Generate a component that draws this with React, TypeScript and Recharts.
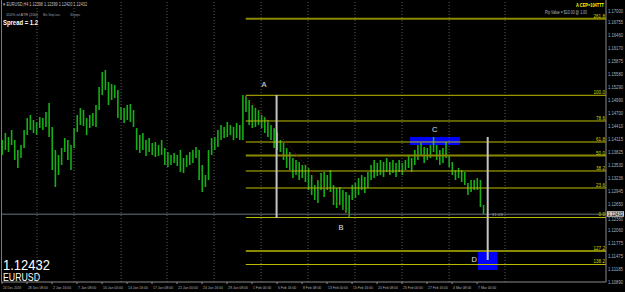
import React from 'react';
import {
  ComposedChart,
  Bar,
  XAxis,
  YAxis,
  ReferenceLine,
  ReferenceArea,
  ReferenceDot,
} from 'recharts';

// H4 bars (every other bar), prices
const highs = [
  1.14100, 1.14257, 1.14167, 1.14325, 1.14100, 1.13875, 1.13987, 1.14325, 1.14594, 1.14662,
  1.14549, 1.14504, 1.14617, 1.14594, 1.14729, 1.14932, 1.14392, 1.13875, 1.13763, 1.13920,
  1.14145, 1.14100, 1.13987, 1.14370, 1.14662, 1.14819, 1.14774, 1.14594, 1.14662, 1.14707,
  1.14887, 1.15291, 1.15628, 1.15673, 1.15404, 1.15359, 1.15336, 1.15224, 1.14842, 1.14819,
  1.14887, 1.14909, 1.14774, 1.14370, 1.14212, 1.14257, 1.14100, 1.14145, 1.14032, 1.14055,
  1.13987, 1.14100, 1.13920, 1.13830, 1.13763, 1.13808, 1.13763, 1.13875, 1.13695, 1.13763,
  1.13830, 1.13875, 1.13942, 1.13875, 1.13538, 1.13313, 1.13875, 1.14145, 1.14167, 1.14325,
  1.14437, 1.14392, 1.14504, 1.14437, 1.14392, 1.14482, 1.14437, 1.15111, 1.15089, 1.14999,
  1.14887, 1.14819, 1.14774, 1.14662, 1.14617, 1.14549, 1.14437, 1.14370, 1.14280, 1.14100,
  1.14032, 1.13920, 1.13830, 1.13695, 1.13650, 1.13605, 1.13538, 1.13538, 1.13470, 1.13313,
  1.13088, 1.13201, 1.13358, 1.13380, 1.13313, 1.13425, 1.13088, 1.13021, 1.13043, 1.12976,
  1.12931, 1.12863, 1.13088, 1.13133, 1.13246, 1.13313, 1.13268, 1.13380, 1.13538, 1.13650,
  1.13583, 1.13650, 1.13605, 1.13695, 1.13605, 1.13650, 1.13583, 1.13650, 1.13583, 1.13650,
  1.13763, 1.13695, 1.13875, 1.13987, 1.14032, 1.13942, 1.13920, 1.13987, 1.14167, 1.13987,
  1.13875, 1.13920, 1.14055, 1.13763, 1.13605, 1.13425, 1.13470, 1.13425, 1.13380, 1.13133,
  1.13201, 1.13201, 1.13246, 1.13201, 1.12639,
];

const lows = [
  1.13763, 1.13875, 1.13830, 1.13987, 1.13650, 1.13470, 1.13695, 1.13920, 1.14212, 1.14325,
  1.14257, 1.14212, 1.14370, 1.14325, 1.14392, 1.14167, 1.13425, 1.13043, 1.13313, 1.13538,
  1.13830, 1.13650, 1.13425, 1.13920, 1.14280, 1.14437, 1.14415, 1.14212, 1.14370, 1.14415,
  1.14392, 1.14774, 1.15111, 1.15224, 1.14887, 1.14999, 1.15044, 1.14594, 1.14549, 1.14482,
  1.14549, 1.14504, 1.14392, 1.13875, 1.13808, 1.13875, 1.13740, 1.13830, 1.13763, 1.13718,
  1.13740, 1.13763, 1.13538, 1.13493, 1.13538, 1.13583, 1.13515, 1.13380, 1.13358, 1.13493,
  1.13538, 1.13583, 1.13695, 1.13201, 1.12931, 1.13043, 1.13201, 1.13763, 1.13875, 1.13942,
  1.14100, 1.14145, 1.14167, 1.14212, 1.14100, 1.14145, 1.14100, 1.14100, 1.14729, 1.14437,
  1.14370, 1.14392, 1.14437, 1.14370, 1.14257, 1.14167, 1.14100, 1.13920, 1.13875, 1.13830,
  1.13650, 1.13470, 1.13425, 1.13246, 1.13313, 1.13201, 1.13246, 1.13156, 1.12976, 1.12863,
  1.12751, 1.12684, 1.12976, 1.12818, 1.12976, 1.12931, 1.12639, 1.12571, 1.12639, 1.12526,
  1.12459, 1.12358, 1.12751, 1.12796, 1.12863, 1.12976, 1.12908, 1.13021, 1.13201, 1.13246,
  1.13291, 1.13313, 1.13268, 1.13380, 1.13313, 1.13358, 1.13268, 1.13380, 1.13313, 1.13425,
  1.13470, 1.13380, 1.13538, 1.13650, 1.13763, 1.13583, 1.13650, 1.13695, 1.13830, 1.13650,
  1.13538, 1.13583, 1.13695, 1.13493, 1.13313, 1.13201, 1.13246, 1.13156, 1.13088, 1.12863,
  1.12931, 1.12976, 1.12976, 1.12594, 1.12436,
];

const dateTicks = [0, 16, 32, 48, 64, 80, 96, 112, 128, 144, 160, 176, 192, 208, 224, 240, 256, 272, 288, 304];
const dateLabels = [
  '24 Dec 2018', '28 Dec 08:00', '2 Jan 16:00', '7 Jan 08:00', '10 Jan 00:00',
  '14 Jan 16:00', '17 Jan 08:00', '22 Jan 00:00', '24 Jan 16:00', '29 Jan 08:00',
  '1 Feb 00:00', '5 Feb 16:00', '8 Feb 08:00', '13 Feb 00:00', '15 Feb 16:00',
  '20 Feb 08:00', '25 Feb 00:00', '27 Feb 16:00', '4 Mar 08:00', '7 Mar 00:00',
];
const priceTicks = [
  1.17000, 1.16755, 1.16460, 1.16170, 1.15875, 1.15580, 1.15290, 1.14990, 1.14700, 1.14410,
  1.14115, 1.13825, 1.13530, 1.13236, 1.12945, 1.12650, 1.12360, 1.12060, 1.11775, 1.11475,
  1.11185, 1.10890,
];
const gridBars = [22.4, 46.1, 76.2, 105.6, 135.7, 165.8, 195.8, 225.9, 256, 286.1, 321.9];

const fibLabels = ['261.8', '100.0', '78.6', '61.8', '50.0', '38.2', '23.6', '0.0', '127.2', '138.2'];
const fibPrices = [1.16827, 1.15105, 1.14527, 1.14055, 1.13751, 1.13403, 1.13021, 1.12358, 1.11604, 1.11301];
const fibDark = ['261.8', '50.0', '127.2'];

const pointNames = ['A', 'B', 'C', 'D'];
const pointBars = [167.7, 217, 276.9, 302.1];
const pointPrices = [1.15359, 1.12144, 1.14347, 1.11418];

const lastPrice = 1.12432;
const X_MAX = 386.5;
const Y_MIN = 1.109074;
const Y_MAX = 1.172473;

const data = highs.map((h, i) => ({ bar: i * 2, range: [lows[i], h] }));

const FONT = '"Liberation Sans", Arial, sans-serif';

const PriceTick = (props: any) => {
  const { x, y, payload } = props;
  // the 1.12360 label sits mostly behind the current-price box; nudge it just below
  const dy = Math.abs(payload.value - 1.1236) < 1e-6 ? 2.2 : 0;
  return (
    <text x={x + 2} y={y + 1.7 + dy} fontSize={4.6} fill="#b0b0b0" fontFamily={FONT}
      textLength={15} lengthAdjust="spacingAndGlyphs">
      {payload.value.toFixed(5)}
    </text>
  );
};

const DateTick = (props: any) => {
  const { x, y, payload } = props;
  const label = dateLabels[dateTicks.indexOf(payload.value)] || '';
  return (
    <g>
      <line x1={x} x2={x} y1={y} y2={y + 2} stroke="#909090" strokeWidth={1} />
      <text x={x + 1} y={y + 6.5} fontSize={4.4} fill="#b0b0b0" fontFamily={FONT}
        textLength={label.length * 1.65} lengthAdjust="spacingAndGlyphs">
        {label}
      </text>
    </g>
  );
};

export default function App() {
  return (
    <div style={{ position: 'fixed', left: 0, top: 0, width: 625, height: 292, background: '#000' }}>
      <ComposedChart width={625} height={292} data={data}
        margin={{ top: 0, right: 0, bottom: 0, left: 2 }}>
        <XAxis dataKey="bar" type="number" domain={[0, X_MAX]} allowDataOverflow
          ticks={dateTicks} interval={0} height={10} tickSize={0} tickMargin={0}
          axisLine={{ stroke: '#8a8a8a' }} tickLine={false} tick={<DateTick />} />
        <YAxis orientation="right" type="number" domain={[Y_MIN, Y_MAX]} allowDataOverflow
          ticks={priceTicks} interval={0} width={19} tickSize={0} tickMargin={0}
          axisLine={{ stroke: '#8a8a8a' }} tickLine={false} tick={<PriceTick />} />

        {gridBars.map((b) => (
          <ReferenceLine key={'g' + b} x={b} stroke="#5c5c5c" strokeDasharray="1 2" />
        ))}

        <ReferenceLine y={lastPrice} stroke="#6a7282" strokeWidth={1} />

        {fibPrices.map((p, i) => (
          <ReferenceLine key={'f' + i}
            segment={[{ x: 156, y: p }, { x: X_MAX, y: p }]}
            stroke={fibDark.includes(fibLabels[i]) ? '#8a8a00' : '#bdbd00'}
            strokeWidth={fibDark.includes(fibLabels[i]) ? 2 : 1} />
        ))}

        <ReferenceArea x1={261.1} x2={293.1} y1={1.13987} y2={1.14167}
          fill="#0000ff" fillOpacity={1} stroke="none" />
        <ReferenceArea x1={304.6} x2={316.8} y1={1.11177} y2={1.11627}
          fill="#0000ff" fillOpacity={1} stroke="none" />

        <Bar dataKey="range" barSize={1.6} fill="#16b016" isAnimationActive={false} />

        <ReferenceLine segment={[{ x: 156.2, y: 1.15089 }, { x: 222.7, y: 1.12369 }]}
          stroke="#a00000" strokeDasharray="1 2" />

        <ReferenceLine segment={[{ x: 175.7, y: 1.15111 }, { x: 175.7, y: 1.12346 }]}
          stroke="#c4c4c4" strokeWidth={2} />
        <ReferenceLine segment={[{ x: 310.8, y: 1.14167 }, { x: 310.8, y: 1.11402 }]}
          stroke="#c4c4c4" strokeWidth={2} />

        {fibPrices.map((p, i) => (
          <ReferenceDot key={'fl' + i} x={X_MAX} y={p} r={0}
            shape={(s: any) => (
              <text x={s.cx - 1} y={s.cy - 1} fontSize={4.6} fill="#d4d400" textAnchor="end"
                fontFamily={FONT}>{fibLabels[i]}</text>
            )} />
        ))}

        {pointNames.map((n, i) => (
          <ReferenceDot key={'p' + n} x={pointBars[i]} y={pointPrices[i]} r={0}
            shape={(s: any) => (
              <text x={s.cx} y={s.cy + 2.6} fontSize={7.5} fill="#e0e0e0" textAnchor="middle"
                fontFamily={FONT}>{n}</text>
            )} />
        ))}

        <ReferenceDot x={311.7} y={1.12414} r={0}
          shape={(s: any) => (
            <text x={s.cx} y={s.cy + 1.5} fontSize={4.4} fill="#9a9a9a" fontFamily={FONT}>◦ 31:28</text>
          )} />

        <ReferenceDot x={X_MAX} y={lastPrice} r={0}
          shape={(s: any) => (
            <g>
              <rect x={s.cx + 1} y={s.cy - 3} width={17} height={5.6} fill="#c8c8c8" />
              <text x={s.cx + 2} y={s.cy + 1.6} fontSize={4.6} fill="#000" fontFamily={FONT}
                textLength={15} lengthAdjust="spacingAndGlyphs">{lastPrice.toFixed(5)}</text>
            </g>
          )} />
      </ComposedChart>

      <svg width={625} height={292} style={{ position: 'absolute', left: 0, top: 0, pointerEvents: 'none' }}>
        <line x1={1.5} x2={1.5} y1={0} y2={282} stroke="#7a7a7a" />
        <text x={3} y={6} fontSize={4.6} fill="#c0c0c0" fontFamily={FONT} textLength={84}
          lengthAdjust="spacingAndGlyphs">▾ EURUSD,H4  1.12398 1.12399 1.12420 1.12432</text>
        <text x={6} y={16} fontSize={4.2} fill="#a8a8a8" fontFamily={FONT} textLength={32}
          lengthAdjust="spacingAndGlyphs">110% of ATR (200)</text>
        <text x={43} y={16} fontSize={4.2} fill="#a8a8a8" fontFamily={FONT} textLength={17}
          lengthAdjust="spacingAndGlyphs">Min. Stop Loss</text>
        <text x={70} y={16} fontSize={4.2} fill="#a8a8a8" fontFamily={FONT} textLength={10}
          lengthAdjust="spacingAndGlyphs">30 pips</text>
        <text x={3} y={24.5} fontSize={8} fontWeight="bold" fill="#ffffff" fontFamily={FONT}
          textLength={35} lengthAdjust="spacingAndGlyphs">Spread = 1.2</text>

        <text x={576} y={7} fontSize={5} fontWeight="bold" fill="#ffff00" fontFamily={FONT}
          textLength={28} lengthAdjust="spacingAndGlyphs">A CEP=104TTT</text>
        <text x={545} y={14} fontSize={4.6} fill="#b8b8b8" fontFamily={FONT} textLength={42}
          lengthAdjust="spacingAndGlyphs">Pip Value = $10.00 @ 1.00</text>

        <text x={3} y={270} fontSize={15} fill="#ffffff" fontFamily={FONT} textLength={47}
          lengthAdjust="spacingAndGlyphs">1.12432</text>
        <text x={3} y={281} fontSize={10} fill="#ffffff" fontFamily={FONT} textLength={37}
          lengthAdjust="spacingAndGlyphs">EURUSD</text>
      </svg>
    </div>
  );
}
